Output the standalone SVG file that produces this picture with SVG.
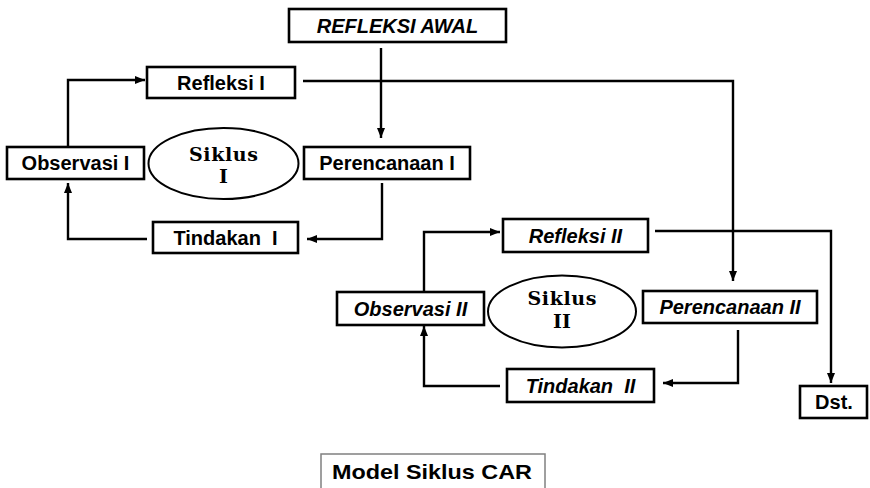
<svg xmlns="http://www.w3.org/2000/svg" width="870" height="488" viewBox="0 0 870 488">
  <style>
    .box { fill: #ffffff; stroke: #000000; stroke-width: 2.6; }
    .oval { fill: #ffffff; stroke: #000000; stroke-width: 2; }
    .lbl { font-family: "Liberation Sans", Arial, sans-serif; font-size: 20px; font-weight: bold; fill: #000000; text-anchor: middle; white-space: pre; }
    .it { font-style: italic; }
    .cyc { font-family: "DejaVu Serif", "Liberation Serif", serif; font-size: 19px; font-weight: bold; fill: #000000; text-anchor: middle; }
    .wire { fill: none; stroke: #000000; stroke-width: 2.4; }
    .arr { marker-end: url(#head); }
    .caption { fill: #ffffff; stroke: #808080; stroke-width: 1.5; }
  </style>
  <defs>
    <marker id="head" markerUnits="userSpaceOnUse" markerWidth="10" markerHeight="8" refX="10" refY="4" orient="auto">
      <path d="M0,0 L10,4 L0,8 Z" fill="#000000"/>
    </marker>
  </defs>

  <!-- connectors -->
  <g id="connectors">
    <path class="wire arr" d="M381,48 L381,138"/>
    <path class="wire arr" d="M303,81 L733,81 L733,281"/>
    <path class="wire arr" d="M68,146 L68,80 L145,80"/>
    <path class="wire arr" d="M147,239 L68,239 L68,183"/>
    <path class="wire arr" d="M382,183 L382,239 L307,239"/>
    <path class="wire arr" d="M424,292 L424,232 L500,232"/>
    <path class="wire arr" d="M500,386 L424,386 L424,326"/>
    <path class="wire arr" d="M738,330 L738,383 L663,383"/>
    <path class="wire arr" d="M655,231 L831,231 L831,383"/>
  </g>

  <g id="refleksi-awal">
    <rect class="box" x="289" y="9" width="217" height="33"/>
    <text class="lbl it" x="397.5" y="32.5">REFLEKSI AWAL</text>
  </g>

  <!-- cycle I -->
  <g id="refleksi-1">
    <rect class="box" x="147" y="67" width="148" height="31"/>
    <text class="lbl" x="221" y="89.5">Refleksi I</text>
  </g>
  <g id="observasi-1">
    <rect class="box" x="7" y="147" width="137" height="32"/>
    <text class="lbl" x="75.5" y="170">Observasi I</text>
  </g>
  <g id="siklus-1">
    <ellipse class="oval" cx="223.5" cy="163.5" rx="75" ry="35.5"/>
    <text class="cyc" x="223.5" y="160.5" textLength="69" lengthAdjust="spacing">Siklus</text>
    <text class="cyc" x="223.5" y="183">I</text>
  </g>
  <g id="perencanaan-1">
    <rect class="box" x="304" y="147" width="166" height="32"/>
    <text class="lbl" x="387" y="170">Perencanaan I</text>
  </g>
  <g id="tindakan-1">
    <rect class="box" x="153" y="222" width="145" height="31"/>
    <text class="lbl" x="225.5" y="244.5">Tindakan  I</text>
  </g>

  <!-- cycle II -->
  <g id="refleksi-2">
    <rect class="box" x="503" y="219" width="145" height="33"/>
    <text class="lbl it" x="575.5" y="242.5">Refleksi II</text>
  </g>
  <g id="observasi-2">
    <rect class="box" x="337" y="292" width="147" height="33"/>
    <text class="lbl it" x="410.5" y="315.5">Observasi II</text>
  </g>
  <g id="siklus-2">
    <ellipse class="oval" cx="562" cy="311.5" rx="74" ry="36"/>
    <text class="cyc" x="562" y="305" textLength="69" lengthAdjust="spacing">Siklus</text>
    <text class="cyc" x="562" y="327.5">II</text>
  </g>
  <g id="perencanaan-2">
    <rect class="box" x="643" y="291" width="174" height="32"/>
    <text class="lbl it" x="730" y="314">Perencanaan II</text>
  </g>
  <g id="tindakan-2">
    <rect class="box" x="507" y="369" width="147" height="33"/>
    <text class="lbl it" x="580.5" y="392.5">Tindakan  II</text>
  </g>
  <g id="dst">
    <rect class="box" x="800" y="386" width="67" height="32"/>
    <text class="lbl" x="834" y="409">Dst.</text>
  </g>

  <g id="caption">
    <rect class="caption" x="321" y="454" width="224" height="40"/>
    <text class="lbl" x="432" y="479" textLength="200" lengthAdjust="spacingAndGlyphs" style="font-size:21px">Model Siklus CAR</text>
  </g>
</svg>
